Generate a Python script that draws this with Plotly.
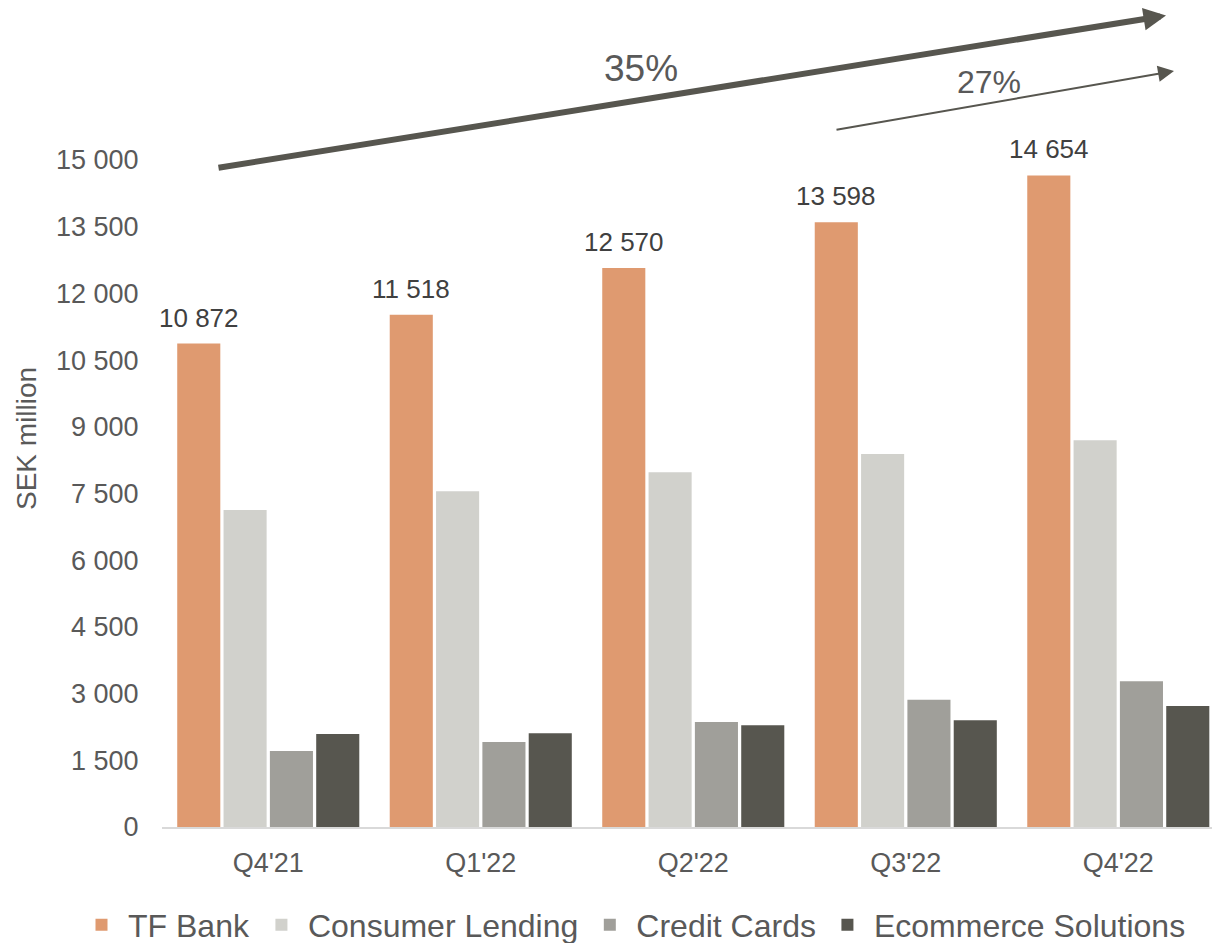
import plotly.graph_objects as go

categories = ["Q4'21", "Q1'22", "Q2'22", "Q3'22", "Q4'22"]
tf_bank = [10872, 11518, 12570, 13598, 14654]
consumer_lending = [7130, 7550, 7980, 8390, 8700]
credit_cards = [1710, 1910, 2360, 2860, 3280]
ecommerce = [2090, 2110, 2290, 2400, 2720]
y_ticks = [0, 1500, 3000, 4500, 6000, 7500, 9000, 10500, 12000, 13500, 15000]

series = [
    ("TF Bank", tf_bank, "#DF9A70"),
    ("Consumer Lending", consumer_lending, "#D1D1CC"),
    ("Credit Cards", credit_cards, "#A09F9A"),
    ("Ecommerce Solutions", ecommerce, "#57564F"),
]

FONT = "Liberation Sans, Arial, sans-serif"
TXT = "#595959"

W, H = 1212, 943
L, R, T, B = 162, 0, 160, 116
PW, PH = W - L - R, H - T - B

def px(x):
    return (x - L) / PW

def py(y):
    return (H - B - y) / PH

fig = go.Figure()
for name, vals, col in series:
    fig.add_trace(go.Bar(x=categories, y=vals, name=name, marker_color=col,
                         marker_line_width=0))

bargap = 0.128
bargroupgap = 0.07
slot = (1 - bargap) / 4
annotations = []
for i, v in enumerate(tf_bank):
    annotations.append(dict(
        x=i - 1.5 * slot, y=v, xref="x", yref="y", text=f"{v:,}".replace(",", " "),
        showarrow=False, xanchor="center", yanchor="bottom", yshift=9,
        font=dict(family=FONT, size=26, color="#404040")))

# growth arrows
annotations.append(dict(xref="paper", yref="paper", x=px(1166), y=py(15.5),
                        axref="pixel", ayref="pixel", ax=217 - 1166, ay=168 - 15.5,
                        text="", showarrow=True, arrowhead=2, arrowwidth=6,
                        arrowsize=0.75, arrowcolor="#57564F"))
annotations.append(dict(xref="paper", yref="paper", x=px(1174), y=py(71),
                        axref="pixel", ayref="pixel", ax=835 - 1174, ay=130 - 71,
                        text="", showarrow=True, arrowhead=2, arrowwidth=2,
                        arrowsize=1.6, arrowcolor="#57564F"))
annotations.append(dict(xref="paper", yref="paper", x=px(641), y=py(69),
                        xanchor="center", yanchor="middle",
                        text="35%", showarrow=False,
                        font=dict(family=FONT, size=37, color=TXT)))
annotations.append(dict(xref="paper", yref="paper", x=px(989), y=py(81.5),
                        xanchor="center", yanchor="middle",
                        text="27%", showarrow=False,
                        font=dict(family=FONT, size=32, color=TXT)))
# y-axis title
annotations.append(dict(xref="paper", yref="paper", x=px(26), y=py(439),
                        xanchor="center", yanchor="middle", textangle=-90,
                        text="SEK million", showarrow=False,
                        font=dict(family=FONT, size=28, color=TXT)))

fig.update_layout(
    width=W, height=H,
    margin=dict(l=L, r=R, t=T, b=B, autoexpand=False),
    paper_bgcolor="white", plot_bgcolor="white",
    barmode="group", bargap=bargap, bargroupgap=bargroupgap,
    separators=". ",
    font=dict(family=FONT, size=27, color=TXT),
    annotations=annotations,
    showlegend=True,
    legend=dict(orientation="h", x=px(75), xanchor="left", y=py(925), yanchor="middle",
                itemwidth=43, font=dict(family=FONT, size=32, color=TXT),
                traceorder="normal"),
    xaxis=dict(type="category", range=[-0.5, 4.441], showline=True,
               linecolor="#D9D9D9", linewidth=2, showgrid=False, zeroline=False,
               ticks="outside", ticklen=11, tickcolor="rgba(0,0,0,0)",
               tickfont=dict(size=27, color=TXT), automargin=False),
    yaxis=dict(range=[0, 15000], tickvals=y_ticks, tickformat=",d", showline=False,
               showgrid=False, zeroline=False, ticks="outside", ticklen=17,
               tickcolor="rgba(0,0,0,0)", tickfont=dict(size=27, color=TXT),
               automargin=False),
)

fig.write_html("out.html")
